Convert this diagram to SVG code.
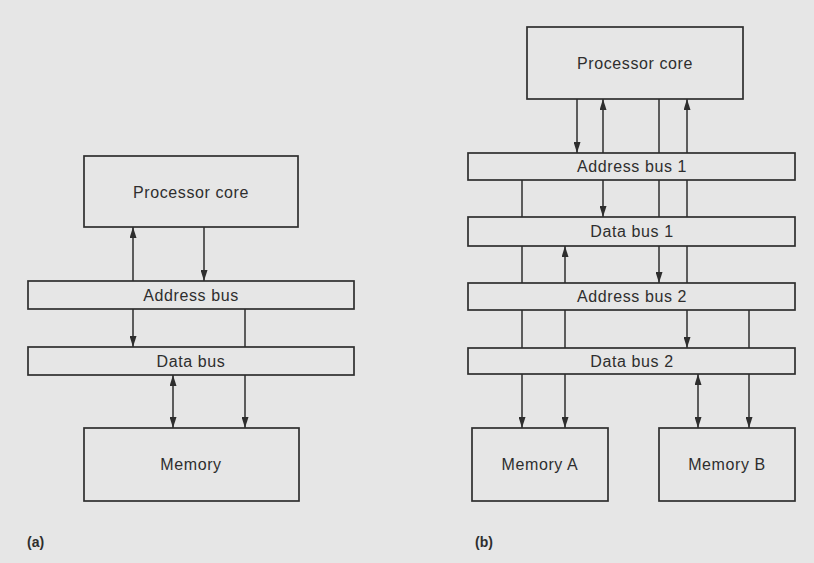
<svg xmlns="http://www.w3.org/2000/svg" width="814" height="563" viewBox="0 0 814 563">
<style>
.box{fill:#e6e6e6;stroke:#2e2e2e;stroke-width:1.7}
.t{font-family:"Liberation Sans",Arial,sans-serif;font-size:16px;fill:#2e2e2e;text-anchor:middle;letter-spacing:0.6px}
.lbl{font-family:"Liberation Sans",Arial,sans-serif;font-size:14px;font-weight:bold;fill:#2e2e2e}
.c line{stroke:#2e2e2e;stroke-width:1.5}
.e{marker-end:url(#ah)}
.b{marker-end:url(#ah);marker-start:url(#ah)}
</style>
<defs>
<marker id="ah" viewBox="0 0 11 7" refX="11" refY="3.5" markerWidth="11" markerHeight="7" orient="auto-start-reverse" markerUnits="userSpaceOnUse">
<path d="M0,0 L11,3.5 L0,7 z" fill="#2e2e2e"/>
</marker>
</defs>
<rect width="814" height="563" fill="#e6e6e6"/>

<!-- (a) -->
<g id="a-proc"><rect class="box" x="84" y="156" width="214" height="71"/><text class="t" x="191" y="197.5">Processor core</text></g>
<g id="a-addr"><rect class="box" x="28" y="281" width="326" height="28"/><text class="t" x="191" y="300.5">Address bus</text></g>
<g id="a-data"><rect class="box" x="28" y="347" width="326" height="28"/><text class="t" x="191" y="366.5">Data bus</text></g>
<g id="a-mem"><rect class="box" x="84" y="428" width="215" height="73"/><text class="t" x="191" y="470">Memory</text></g>
<text class="lbl" x="27" y="547">(a)</text>

<!-- (b) -->
<g id="b-proc"><rect class="box" x="527" y="27" width="216" height="72"/><text class="t" x="635" y="68.5">Processor core</text></g>
<g id="b-addr1"><rect class="box" x="468" y="153" width="327" height="27"/><text class="t" x="632" y="172">Address bus 1</text></g>
<g id="b-data1"><rect class="box" x="468" y="217" width="327" height="29"/><text class="t" x="632" y="237">Data bus 1</text></g>
<g id="b-addr2"><rect class="box" x="468" y="283" width="327" height="27"/><text class="t" x="632" y="302">Address bus 2</text></g>
<g id="b-data2"><rect class="box" x="468" y="348" width="327" height="26"/><text class="t" x="632" y="366.5">Data bus 2</text></g>
<g id="b-memA"><rect class="box" x="472" y="428" width="136" height="73"/><text class="t" x="540" y="470">Memory A</text></g>
<g id="b-memB"><rect class="box" x="659" y="428" width="136" height="73"/><text class="t" x="727" y="470">Memory B</text></g>
<text class="lbl" x="475" y="547">(b)</text>

<g id="connectors" class="c">
<line class="e" x1="133" y1="281" x2="133" y2="227"/>
<line class="e" x1="204" y1="227" x2="204" y2="281"/>
<line class="e" x1="133" y1="309" x2="133" y2="347"/>
<line x1="245" y1="309" x2="245" y2="347"/>
<line class="b" x1="173" y1="375" x2="173" y2="428"/>
<line class="e" x1="245" y1="375" x2="245" y2="428"/>

<line class="e" x1="577" y1="99" x2="577" y2="153"/>
<line class="e" x1="603" y1="153" x2="603" y2="99"/>
<line x1="659" y1="99" x2="659" y2="153"/>
<line class="e" x1="687" y1="153" x2="687" y2="99"/>
<line x1="522" y1="180" x2="522" y2="217"/>
<line class="e" x1="603" y1="180" x2="603" y2="217"/>
<line x1="659" y1="180" x2="659" y2="217"/>
<line x1="687" y1="180" x2="687" y2="217"/>
<line x1="522" y1="246" x2="522" y2="283"/>
<line class="e" x1="565" y1="283" x2="565" y2="246"/>
<line class="e" x1="659" y1="246" x2="659" y2="283"/>
<line x1="687" y1="246" x2="687" y2="283"/>
<line x1="522" y1="310" x2="522" y2="348"/>
<line x1="565" y1="310" x2="565" y2="348"/>
<line class="e" x1="687" y1="310" x2="687" y2="348"/>
<line x1="749" y1="310" x2="749" y2="348"/>
<line class="e" x1="522" y1="374" x2="522" y2="428"/>
<line class="e" x1="565" y1="374" x2="565" y2="428"/>
<line class="b" x1="698" y1="374" x2="698" y2="428"/>
<line class="e" x1="749" y1="374" x2="749" y2="428"/>
</g>
</svg>
